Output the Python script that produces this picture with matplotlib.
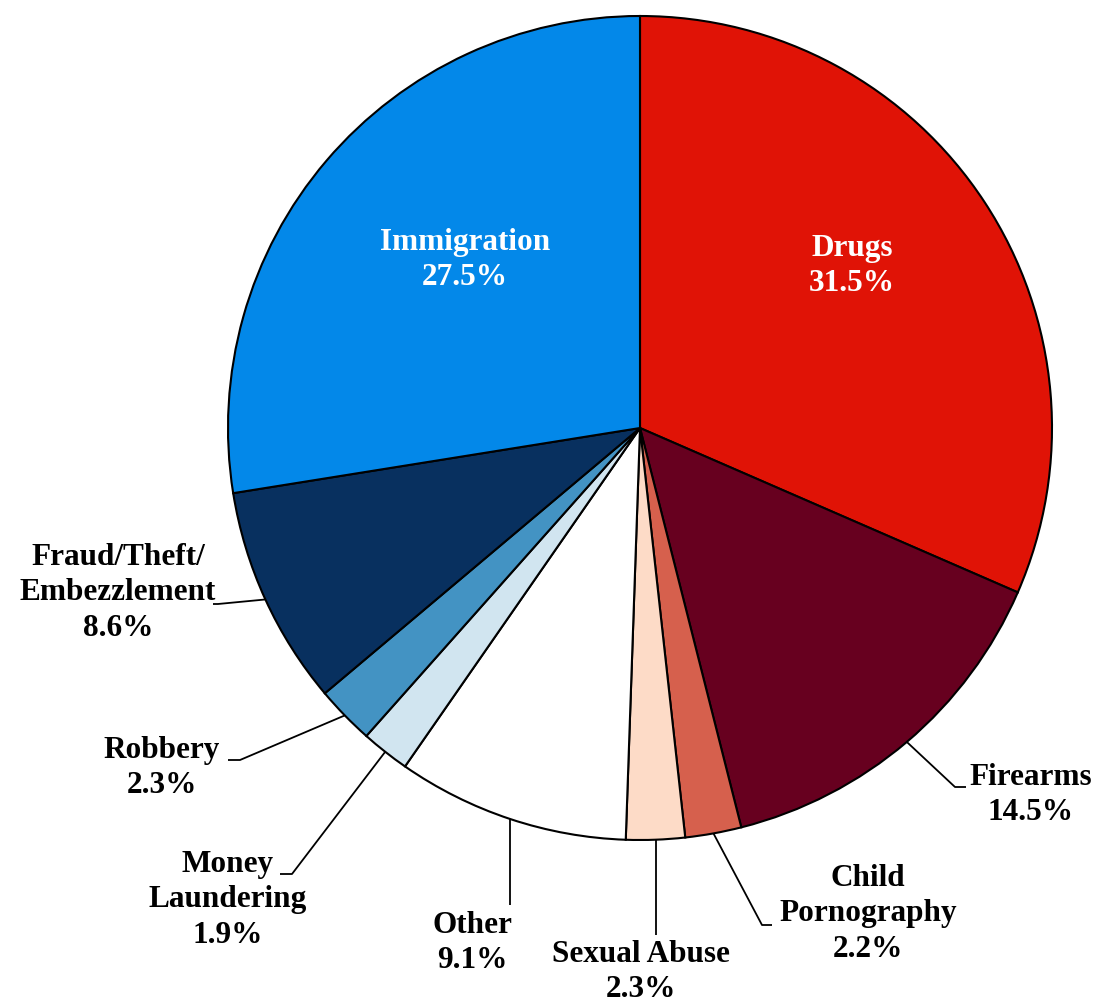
import matplotlib

matplotlib.use("Agg")
import matplotlib.pyplot as plt
import numpy as np

W, H = 1100, 1006

categories = [
    "Drugs", "Firearms", "Child\nPornography", "Sexual Abuse", "Other",
    "Money\nLaundering", "Robbery", "Fraud/Theft/\nEmbezzlement", "Immigration",
]
shares = [31.5, 14.5, 2.2, 2.3, 9.1, 1.9, 2.3, 8.6, 27.5]
colors = [
    "#E01306", "#67001F", "#D6604D", "#FDDBC7", "#FFFFFF",
    "#D1E5F0", "#4393C3", "#08305F", "#0388E9",
]

# pie geometry in pixel units (y measured from top of image)
CENTER = (640, 428)
RADIUS = 412

# label layout: text centre, leader elbow, leader end (pixels, y from top)
# elbow x of None means a straight vertical drop from the wedge
label_layout = {
    "Drugs": ((852, 266), None, None),
    "Immigration": ((465, 260), None, None),
    "Firearms": ((1031, 795), (955, 787), (966, 787)),
    "Child\nPornography": ((868, 914), (762, 925), (772, 925)),
    "Sexual Abuse": ((641, 972), (None, 935), (None, 935)),
    "Other": ((472, 943), (None, 905), (None, 905)),
    "Money\nLaundering": ((228, 900), (292, 874), (280, 874)),
    "Robbery": ((162, 768), (240, 760), (228, 760)),
    "Fraud/Theft/\nEmbezzlement": ((118, 593), (218, 604), (213, 604)),
}


def py(y):
    return H - y


plt.rcParams["font.family"] = ["Liberation Serif", "DejaVu Serif"]
plt.rcParams["font.weight"] = "bold"

fig = plt.figure(figsize=(W / 100, H / 100), dpi=100)
ax = fig.add_axes([0, 0, 1, 1])

wedges, _ = ax.pie(
    shares,
    colors=colors,
    startangle=90,
    counterclock=False,
    center=(CENTER[0], py(CENTER[1])),
    radius=RADIUS,
    wedgeprops=dict(edgecolor="black", linewidth=1.5),
)
ax.set_xlim(0, W)
ax.set_ylim(0, H)
ax.set_aspect("equal")
ax.axis("off")

for wedge, name, share in zip(wedges, categories, shares):
    text_pos, elbow, end = label_layout[name]
    text = f"{name}\n{share:.1f}%"
    if elbow is None:
        ax.text(text_pos[0], py(text_pos[1]), text, ha="center", va="center",
                fontsize=22.5, color="white", fontweight="bold", linespacing=1.3)
        continue
    mid = np.deg2rad((wedge.theta1 + wedge.theta2) / 2)
    ax_x = wedge.center[0] + wedge.r * np.cos(mid)
    ax_y = wedge.center[1] + wedge.r * np.sin(mid)
    ex = ax_x if elbow[0] is None else elbow[0]
    nx = ax_x if end[0] is None else end[0]
    ax.plot([ax_x, ex, nx], [ax_y, py(elbow[1]), py(end[1])],
            color="black", linewidth=1.3, solid_capstyle="butt")
    ax.text(text_pos[0], py(text_pos[1]), text, ha="center", va="center",
            fontsize=22.5, color="black", fontweight="bold", linespacing=1.3)

fig.savefig("out.png", dpi=100)
